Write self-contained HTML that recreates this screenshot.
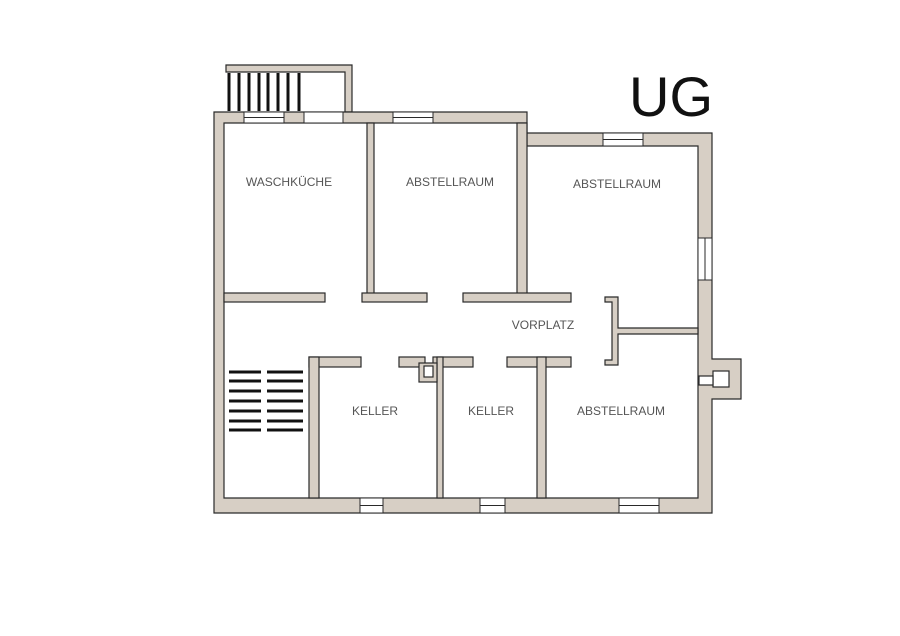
<!DOCTYPE html>
<html><head><meta charset="utf-8"><style>
html,body{margin:0;padding:0;background:#fff;width:900px;height:636px;overflow:hidden}
svg{display:block}
text{font-family:"Liberation Sans",sans-serif;fill:#555;font-size:12px}
</style></head><body>
<svg width="900" height="636" viewBox="0 0 900 636" xmlns="http://www.w3.org/2000/svg">
<g fill="#d7cfc5" stroke="#2a2a2a" stroke-width="1.2">
<!-- stair enclosure -->
<path d="M226,65 H352 V112 H345 V72 H226 Z"/>
<!-- outer walls -->
<path d="M214,112 H527 V133 H712 V359 H741 V399 H712 V513 H214 Z M224,123 V498 H698 V146 H527 V123 Z" fill-rule="evenodd"/>
<!-- interior walls -->
<rect x="367" y="123" width="7" height="175"/>
<rect x="517" y="123" width="10" height="175"/>
<rect x="224" y="293" width="101" height="9"/>
<rect x="362" y="293" width="65" height="9"/>
<rect x="463" y="293" width="108" height="9"/>
<path d="M605,297 H618 V328 H698 V334 H618 V365 H605 V360 H612 V302 H605 Z"/>
<rect x="309" y="357" width="52" height="10"/>
<rect x="309" y="357" width="10" height="141"/>
<rect x="399" y="357" width="26" height="10"/>
<rect x="433" y="357" width="40" height="10"/>
<rect x="437" y="357" width="6" height="141"/>
<rect x="507" y="357" width="64" height="10"/>
<rect x="537" y="357" width="9" height="141"/>
</g>
<!-- chimney details -->
<g fill="none" stroke="#2a2a2a" stroke-width="1.2">
<rect x="419" y="363" width="18" height="19" fill="#d7cfc5"/>
<rect x="424" y="366" width="9" height="11" fill="#fff"/>
<rect x="713" y="371" width="16" height="16" fill="#fff"/>
<rect x="699" y="376" width="14" height="9" fill="#fff"/>
</g>
<!-- windows -->
<g fill="#fff" stroke="#2a2a2a" stroke-width="1">
<rect x="244" y="112" width="40" height="11"/><line x1="244" y1="117.5" x2="284" y2="117.5"/>
<rect x="304" y="112" width="39" height="11"/>
<rect x="393" y="112" width="40" height="11"/><line x1="393" y1="117.5" x2="433" y2="117.5"/>
<rect x="603" y="133" width="40" height="13"/><line x1="603" y1="139.5" x2="643" y2="139.5"/>
<rect x="698" y="238" width="14" height="42"/><line x1="705" y1="238" x2="705" y2="280"/>
<rect x="360" y="498" width="23" height="15"/><line x1="360" y1="505.5" x2="383" y2="505.5"/>
<rect x="480" y="498" width="25" height="15"/><line x1="480" y1="505.5" x2="505" y2="505.5"/>
<rect x="619" y="498" width="40" height="15"/><line x1="619" y1="505.5" x2="659" y2="505.5"/>
</g>
<!-- door gaps cover -->
<!-- stairs -->
<g stroke="#111" stroke-width="3">
<line x1="229" y1="73" x2="229" y2="111"/><line x1="239" y1="73" x2="239" y2="111"/><line x1="249" y1="73" x2="249" y2="111"/><line x1="259" y1="73" x2="259" y2="111"/><line x1="268" y1="73" x2="268" y2="111"/><line x1="278" y1="73" x2="278" y2="111"/><line x1="288" y1="73" x2="288" y2="111"/><line x1="299" y1="73" x2="299" y2="111"/>
<line x1="229" y1="372" x2="261" y2="372"/><line x1="267" y1="372" x2="303" y2="372"/>
<line x1="229" y1="381" x2="261" y2="381"/><line x1="267" y1="381" x2="303" y2="381"/>
<line x1="229" y1="391" x2="261" y2="391"/><line x1="267" y1="391" x2="303" y2="391"/>
<line x1="229" y1="401" x2="261" y2="401"/><line x1="267" y1="401" x2="303" y2="401"/>
<line x1="229" y1="411" x2="261" y2="411"/><line x1="267" y1="411" x2="303" y2="411"/>
<line x1="229" y1="421" x2="261" y2="421"/><line x1="267" y1="421" x2="303" y2="421"/>
<line x1="229" y1="430" x2="261" y2="430"/><line x1="267" y1="430" x2="303" y2="430"/>
</g>
<g text-anchor="middle">
<text x="289" y="186">WASCHKÜCHE</text>
<text x="450" y="186">ABSTELLRAUM</text>
<text x="617" y="188">ABSTELLRAUM</text>
<text x="543" y="329">VORPLATZ</text>
<text x="375" y="415">KELLER</text>
<text x="491" y="415">KELLER</text>
<text x="621" y="415">ABSTELLRAUM</text>
</g>
<text x="671" y="116" text-anchor="middle" style="font-size:56px;fill:#111;font-weight:normal">UG</text>
</svg>
</body></html>
